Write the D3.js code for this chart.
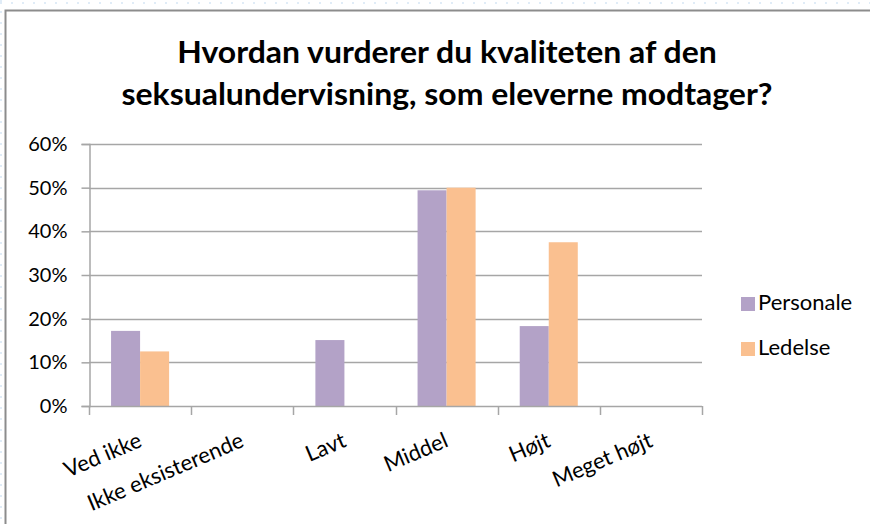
<!DOCTYPE html>
<html>
<head>
<meta charset="utf-8">
<script src="https://cdn.jsdelivr.net/npm/d3@7"></script>
<style>
  html, body { margin: 0; padding: 0; background: #fff; }
  svg { display: block; }
  text { font-family: Lato, "Open Sans", sans-serif; fill: #000; }
</style>
</head>
<body>
<svg id="chart" width="870" height="524"></svg>
<script>
const titleLines = ["Hvordan vurderer du kvaliteten af den", "seksualundervisning, som eleverne modtager?"];
const categories = ["Ved ikke", "Ikke eksisterende", "Lavt", "Middel", "Højt", "Meget højt"];
const seriesNames = ["Personale", "Ledelse"];
const personale = [0.172, 0, 0.151, 0.494, 0.183, 0];
const ledelse = [0.125, 0, 0, 0.50, 0.375, 0];
const yTicks = [0, 0.1, 0.2, 0.3, 0.4, 0.5, 0.6];
const colors = ["#b3a2c7", "#fac090"];

const svg = d3.select("#chart");

// faint page guides (dotted) above/left of the chart frame
svg.append("line").attr("x1", 0).attr("x2", 870).attr("y1", 3).attr("y2", 3)
  .attr("stroke", "#d6e6f5").attr("stroke-width", 1.5).attr("stroke-dasharray", "2,9");
svg.append("line").attr("x1", 1).attr("x2", 1).attr("y1", 0).attr("y2", 524)
  .attr("stroke", "#d6e6f5").attr("stroke-width", 1.5).attr("stroke-dasharray", "2,9");

// chart frame
svg.append("rect").attr("x", 5.5).attr("y", 10.5).attr("width", 900).attr("height", 600)
  .attr("fill", "#fff").attr("stroke", "#8c8c8c").attr("stroke-width", 2);

// title
const title = svg.append("g").attr("transform", "translate(447,0) scale(1.065,1)");
titleLines.forEach((t, i) => {
  title.append("text")
    .attr("x", 0).attr("y", 63 + i * 42)
    .attr("text-anchor", "middle")
    .attr("font-size", 30).attr("font-weight", "bold")
    .text(t);
});

const x = d3.scaleBand().domain(categories).range([89, 702]).paddingInner(0).paddingOuter(0);
const xs = d3.scaleBand().domain(seriesNames).range([0, x.bandwidth()]).paddingInner(0).paddingOuter(0.76);
const y = d3.scaleLinear().domain([0, 0.6]).range([406, 144]);

// gridlines
svg.append("g").selectAll("line").data(yTicks.slice(1)).join("line")
  .attr("x1", 89).attr("x2", 702)
  .attr("y1", d => Math.round(y(d)) + 0.5).attr("y2", d => Math.round(y(d)) + 0.5)
  .attr("stroke", "#a6a6a6").attr("stroke-width", 1.5);

// bars
const data = seriesNames.map((s, si) => ({ name: s, values: si === 0 ? personale : ledelse, color: colors[si] }));
const bars = svg.append("g");
data.forEach(s => {
  bars.selectAll(null).data(categories.map((c, i) => ({ c, v: s.values[i] })).filter(d => d.v > 0)).join("rect")
    .attr("x", d => x(d.c) + xs(s.name))
    .attr("width", xs.bandwidth())
    .attr("y", d => y(d.v))
    .attr("height", d => y(0) - y(d.v))
    .attr("fill", s.color);
});

// y axis
const yAxis = d3.axisLeft(y).tickValues(yTicks).tickFormat(d3.format(".0%")).tickSize(8).tickPadding(14);
const ya = svg.append("g").attr("transform", "translate(89.5,0)").call(yAxis);
ya.select(".domain").attr("stroke", "#a6a6a6").attr("stroke-width", 1.5);
ya.selectAll(".tick line").attr("stroke", "#a6a6a6").attr("stroke-width", 1.5);
ya.selectAll(".tick text").attr("font-size", 20).attr("font-family", "Lato, sans-serif").attr("fill", "#222");

// x axis
const boundaries = categories.map(c => x(c)).concat([x.range()[1]]);
const xa = svg.append("g");
xa.append("line").attr("x1", 89).attr("x2", 702).attr("y1", 406.5).attr("y2", 406.5)
  .attr("stroke", "#a6a6a6").attr("stroke-width", 1.5);
xa.selectAll(".xt").data(boundaries).join("line").attr("class", "xt")
  .attr("x1", d => Math.round(d) + 0.5).attr("x2", d => Math.round(d) + 0.5)
  .attr("y1", 406).attr("y2", 415)
  .attr("stroke", "#a6a6a6").attr("stroke-width", 1.5);
xa.selectAll(".xl").data(categories).join("text").attr("class", "xl")
  .attr("transform", d => `translate(${x(d) + x.bandwidth() / 2 + 3},446) rotate(-23)`)
  .attr("text-anchor", "end")
  .attr("font-size", 22).attr("fill", "#222")
  .text(d => d);

// legend
const legend = svg.append("g");
data.forEach((s, i) => {
  const gy = 297 + i * 45;
  legend.append("rect").attr("x", 741).attr("y", gy).attr("width", 14).attr("height", 14).attr("fill", s.color);
  legend.append("text").attr("x", 758).attr("y", gy + 13).attr("font-size", 22).attr("fill", "#222").text(s.name);
});
</script>
</body>
</html>
